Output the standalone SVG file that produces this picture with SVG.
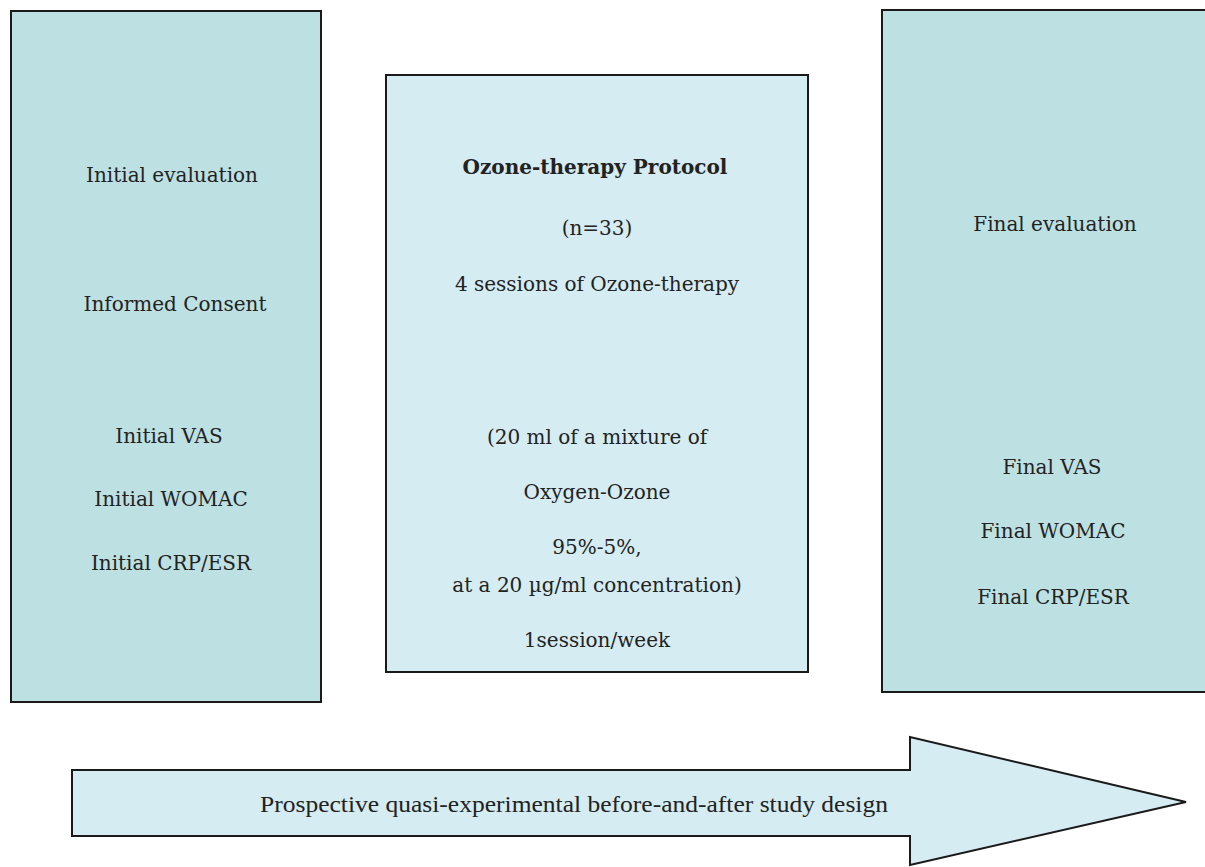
<svg xmlns="http://www.w3.org/2000/svg" width="1205" height="867" viewBox="0 0 1205 867">
<style>
.box{stroke:#1a1a1a;stroke-width:2}
.dark{fill:#bde0e3}
.light{fill:#d5ecf3}
text{font-family:"DejaVu Serif","Liberation Serif",serif;font-size:20px;fill:#222;text-anchor:middle}
.b{font-weight:bold}
.arr{font-family:"Liberation Serif",serif;font-size:23px}
</style>
<rect width="1205" height="867" fill="#ffffff"/>
<g id="initial">
<rect class="box dark" x="11" y="11" width="310" height="691"/>
<text x="172" y="182">Initial evaluation</text>
<text x="175" y="311">Informed Consent</text>
<text x="169" y="443">Initial VAS</text>
<text x="171" y="506">Initial WOMAC</text>
<text x="171" y="570">Initial CRP/ESR</text>
</g>
<g id="protocol">
<rect class="box light" x="386" y="75" width="422" height="597"/>
<text class="b" x="595" y="174">Ozone-therapy Protocol</text>
<text x="597" y="235">(n=33)</text>
<text x="597" y="291">4 sessions of Ozone-therapy</text>
<text x="597" y="444">(20 ml of a mixture of</text>
<text x="597" y="499">Oxygen-Ozone</text>
<text x="597" y="554">95%-5%,</text>
<text x="597" y="592">at a 20 µg/ml concentration)</text>
<text x="597" y="647">1session/week</text>
</g>
<g id="final">
<rect class="box dark" x="882" y="10" width="330" height="682"/>
<text x="1055" y="231">Final evaluation</text>
<text x="1052" y="474">Final VAS</text>
<text x="1053" y="538">Final WOMAC</text>
<text x="1053" y="604">Final CRP/ESR</text>
</g>
<g id="connectors">
<g id="design-arrow">
<polygon class="box light" points="72,770 910,770 910,737 1186,802 910,865 910,836 72,836"/>
<text class="arr" x="574" y="812" textLength="628" lengthAdjust="spacingAndGlyphs">Prospective quasi-experimental before-and-after study design</text>
</g>
</g>
</svg>
